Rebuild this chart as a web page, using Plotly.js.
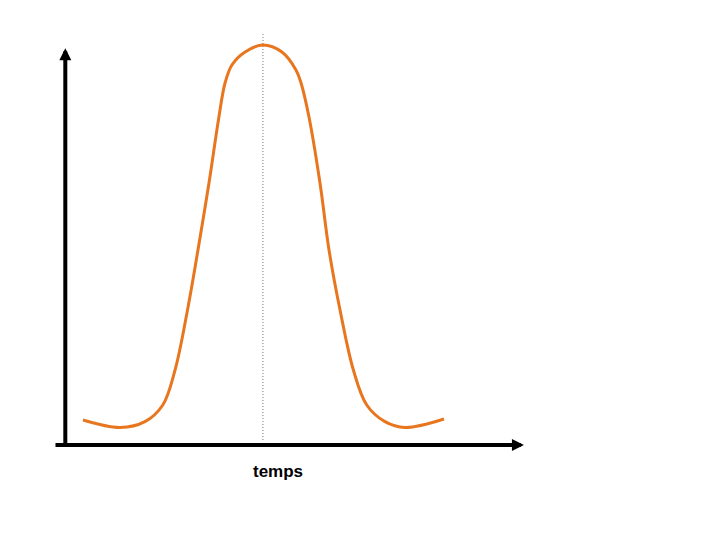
<!DOCTYPE html>
<html>
<head>
<meta charset="utf-8">
<script src="https://cdn.plot.ly/plotly-3.0.1.min.js"></script>
<style>html,body{margin:0;padding:0;background:#fff;}#chart{width:720px;height:540px;}</style>
</head>
<body>
<div id="chart"></div>
<script>
// time (arbitrary units) and signal value (0-100)
var temps = [0.00, 2.05, 3.43, 4.42, 5.10, 5.79, 6.37, 6.98, 7.53, 7.87, 8.25, 8.98, 9.97,
             11.02, 11.80, 12.08, 12.52, 13.13, 13.63, 14.24, 14.98, 15.72, 16.73, 17.84, 20.00];
var valeurs = [6.25, 4.38, 5.83, 10, 18.75, 33.75, 48.75, 65.5, 82, 90.5, 95, 98.25, 100,
               98.25, 93.75, 90.5, 82, 65.5, 48.75, 33.75, 18.75, 10, 5.83, 4.38, 6.5];
var xLabel = 'temps';

var peakIdx = valeurs.indexOf(Math.max.apply(null, valeurs));
var peakT = temps[peakIdx];

var traces = [
  {
    x: [peakT, peakT], y: [1.25, 103],
    mode: 'lines', line: {color: '#777777', width: 1, dash: '1px,2px'},
    hoverinfo: 'skip', showlegend: false
  },
  {
    x: temps, y: valeurs,
    mode: 'lines', line: {color: '#E8761F', width: 3, shape: 'spline', smoothing: 1},
    showlegend: false
  }
];

var layout = {
  width: 720, height: 540,
  margin: {l: 40, r: 160, t: 30, b: 80},
  paper_bgcolor: '#fff', plot_bgcolor: '#fff',
  showlegend: false,
  xaxis: {range: [-2.382, 26.427], showgrid: false, zeroline: false, showline: false, showticklabels: false, ticks: '', fixedrange: true},
  yaxis: {range: [-3.75, 103.75], showgrid: false, zeroline: false, showline: false, showticklabels: false, ticks: '', fixedrange: true},
  annotations: [
    {xref: 'x', yref: 'y', axref: 'x', ayref: 'y', x: 24.43, y: 0, ax: -1.607, ay: 0, text: '', showarrow: true,
     arrowhead: 2, arrowwidth: 4, arrowsize: 0.6, arrowcolor: '#000', standoff: 0},
    {xref: 'x', yref: 'y', axref: 'x', ayref: 'y', x: -0.98, y: 99.2, ax: -0.98, ay: -0.5, text: '', showarrow: true,
     arrowhead: 2, arrowwidth: 4, arrowsize: 0.6, arrowcolor: '#000', standoff: 0},
    {xref: 'paper', yref: 'paper', x: 0.4577, y: -0.0256, xanchor: 'center', yanchor: 'middle', showarrow: false,
     text: xLabel, font: {family: 'Liberation Sans, Arial, sans-serif', size: 17, color: '#000', weight: 'bold'}}
  ]
};

Plotly.newPlot('chart', traces, layout, {displayModeBar: false, staticPlot: true});
</script>
</body>
</html>
